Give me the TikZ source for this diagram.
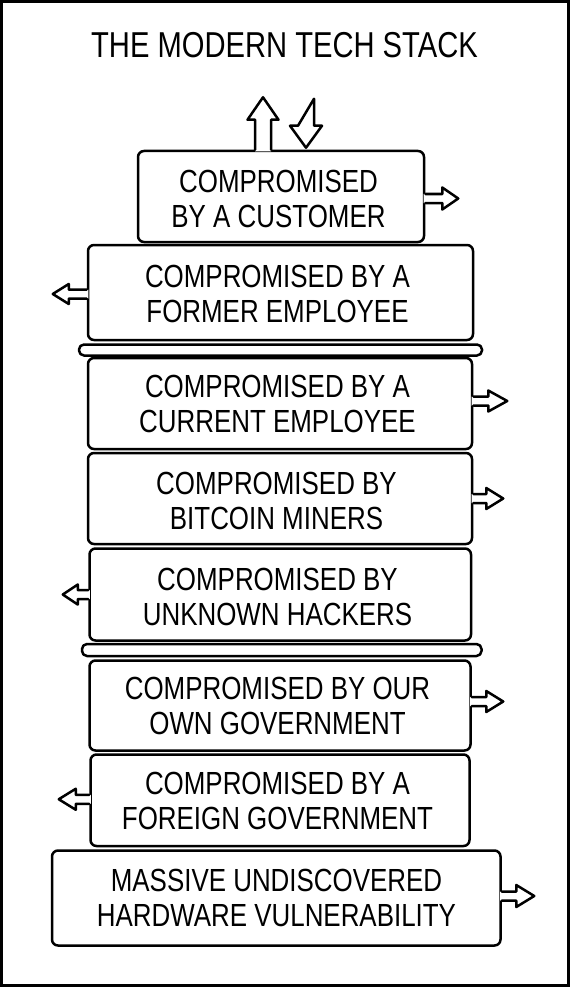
\documentclass[tikz,border=0pt]{standalone}
\usepackage{fontspec}
\setmainfont[FakeStretch=0.81]{Liberation Sans}
\tikzset{
  stackbox/.style={draw, line width=2.5pt, rounded corners=6pt, inner sep=0pt, line join=round},
  slab/.style={stackbox, rounded corners=5pt},
  boxtext/.style={font=\fontsize{32}{35}\selectfont, align=center, inner sep=0pt},
  titletext/.style={font=\fontsize{36}{40}\selectfont, inner sep=0pt},
  arrline/.style={line width=2.5pt, line join=round, line cap=round},
  pics/openarr/.style n args={4}{code={
    \fill[white] (-1.6,-#3) -- (#1,-#3) -- (#1,-#4) -- ({#1+#2},0) -- (#1,#4) -- (#1,#3) -- (-1.6,#3) -- cycle;
    \draw[arrline] (0,-#3) -- (#1,-#3) -- (#1,-#4) -- ({#1+#2},0) -- (#1,#4) -- (#1,#3) -- (0,#3);
  }},
  pics/closedarr/.style n args={4}{code={
    \filldraw[arrline, fill=white] (0,-#3) -- (#1,-#3) -- (#1,-#4) -- ({#1+#2},0) -- (#1,#4) -- (#1,#3) -- cycle;
  }},
}
\begin{document}
\begin{tikzpicture}[x=1pt,y=-1pt]
\useasboundingbox (0,0) rectangle (570,987);
\draw[line width=3pt] (1.5,1.5) rectangle (568.5,985.5);

\node[titletext] (title) at (284.5,45) {THE MODERN TECH STACK};

\node[stackbox, minimum width=286pt, minimum height=91pt] (b1) at (281,196.5) {};
\node[stackbox, minimum width=385pt, minimum height=95pt] (b2) at (280.5,292.5) {};
\node[slab, minimum width=403pt, minimum height=11pt] (s1) at (280.5,350) {};
\node[stackbox, minimum width=384pt, minimum height=91pt] (b3) at (280,403.5) {};
\node[stackbox, minimum width=384pt, minimum height=91pt] (b4) at (280,498.5) {};
\node[stackbox, minimum width=381.5pt, minimum height=92pt] (b5) at (280.25,594.5) {};
\node[slab, minimum width=399.5pt, minimum height=12pt] (s2) at (281.75,650) {};
\node[stackbox, minimum width=381pt, minimum height=90pt] (b6) at (280,705.5) {};
\node[stackbox, minimum width=379pt, minimum height=91.5pt] (b7) at (280,800.25) {};
\node[stackbox, minimum width=448.5pt, minimum height=95pt] (b8) at (276.25,898) {};

\node[boxtext] (t1) at (278.5,199) {COMPROMISED\\BY A CUSTOMER};
\node[boxtext] (t2) at (277.5,294) {COMPROMISED BY A\\FORMER EMPLOYEE};
\node[boxtext] (t3) at (277.5,403.5) {COMPROMISED BY A\\CURRENT EMPLOYEE};
\node[boxtext] (t4) at (276.5,501) {COMPROMISED BY\\BITCOIN MINERS};
\node[boxtext] (t5) at (277.5,597) {COMPROMISED BY\\UNKNOWN HACKERS};
\node[boxtext] (t6) at (277.5,706) {COMPROMISED BY OUR\\OWN GOVERNMENT};
\node[boxtext] (t7) at (277.5,801) {COMPROMISED BY A\\FOREIGN GOVERNMENT};
\node[boxtext] (t8) at (276.5,897.5) {MASSIVE UNDISCOVERED\\HARDWARE VULNERABILITY};

\pic[rotate=90] at ([xshift=-18pt]b1.north) {openarr={30}{22.5}{8}{15.5}};
\pic[rotate=-90] at ([xshift=25pt,yshift=51pt]b1.north) {closedarr={27}{22}{8}{16}};

\pic at ([yshift=-2pt]b1.east) {openarr={17}{16}{4.5}{11}};
\pic[xscale=-1] at ([yshift=-1.5pt]b2.west) {openarr={18}{16}{4.5}{10}};
\pic at ([yshift=2.5pt]b3.east) {openarr={15}{19}{4.5}{10.5}};
\pic at (b4.east) {openarr={13}{17}{4.5}{10.5}};
\pic[xscale=-1] at (b5.west) {openarr={10.5}{15}{4.5}{10}};
\pic at ([yshift=4pt]b6.east) {openarr={14.5}{17}{4.5}{10.5}};
\pic[xscale=-1] at ([yshift=1pt]b7.west) {openarr={13.5}{17}{4.5}{10.5}};
\pic at ([yshift=2pt]b8.east) {openarr={14.5}{18}{4.5}{11}};
\end{tikzpicture}
\end{document}
